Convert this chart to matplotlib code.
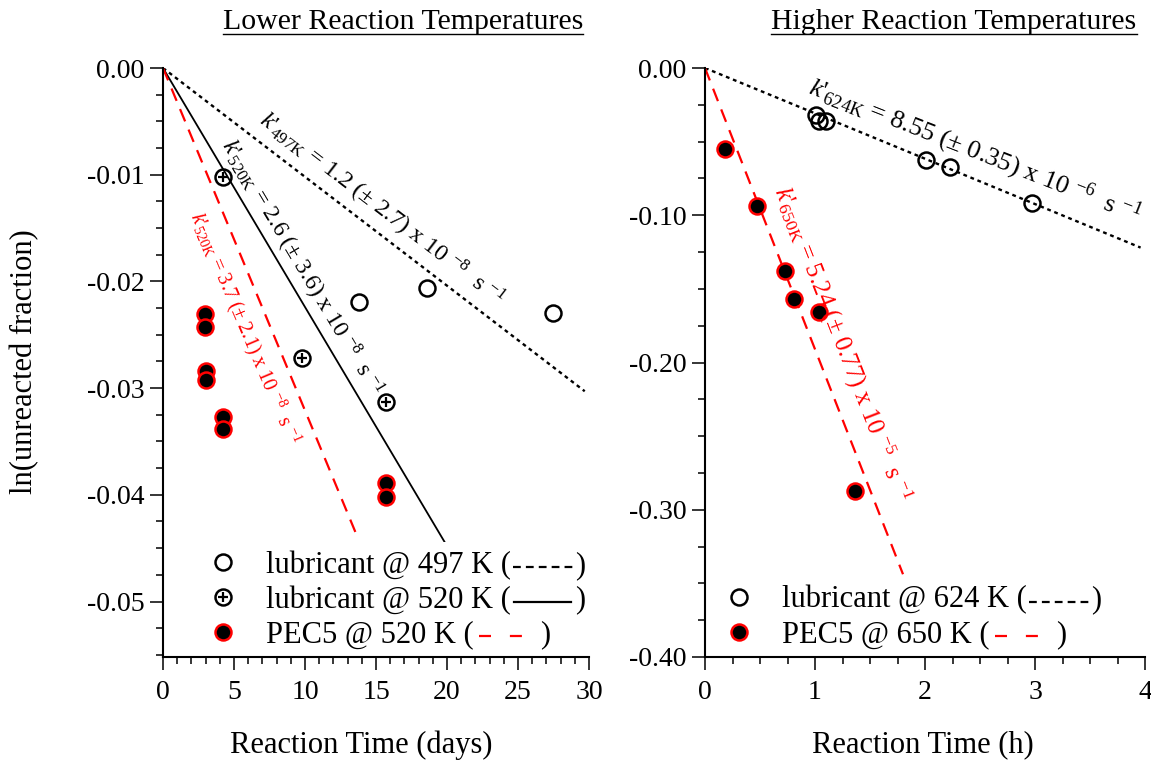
import numpy as np
import matplotlib
matplotlib.use("Agg")
import matplotlib.pyplot as plt
from matplotlib.lines import Line2D

plt.rcParams['font.family'] = ['Liberation Serif', 'DejaVu Serif']
plt.rcParams['mathtext.fontset'] = 'custom'
plt.rcParams['mathtext.rm'] = 'Liberation Serif'
plt.rcParams['mathtext.it'] = 'Liberation Serif:italic'
plt.rcParams['axes.unicode_minus'] = False

# -------------------------------------------------------------------
# Data: lower temperatures (days)
# -------------------------------------------------------------------
t_lub497 = [13.8, 18.6, 27.5]
y_lub497 = [-0.0219, -0.0206, -0.0230]

t_lub520 = [4.25, 9.8, 15.7]
y_lub520 = [-0.0102, -0.0272, -0.0313]

t_pec520 = [2.95, 2.95, 3.0, 3.0, 4.2, 4.25, 15.7, 15.7]
y_pec520 = [-0.0231, -0.0243, -0.0284, -0.0292, -0.0327, -0.0338, -0.0389, -0.0402]

# fitted slopes (per day) and how far each fit line runs
slope_lub497, xend_lub497 = -0.00102, 29.7
slope_lub520, xend_lub520 = -0.00224, 26.0
slope_pec520, xend_pec520 = -0.00321, 13.6

# -------------------------------------------------------------------
# Data: higher temperatures (hours)
# -------------------------------------------------------------------
t_lub624 = [1.01, 1.04, 1.10, 2.01, 2.23, 2.97]
y_lub624 = [-0.032, -0.036, -0.036, -0.0625, -0.067, -0.092]

t_pec650 = [0.18, 0.475, 0.73, 0.81, 1.04, 1.36]
y_pec650 = [-0.055, -0.094, -0.138, -0.157, -0.166, -0.287]

slope_lub624, xend_lub624 = -0.0308, 3.96
slope_pec650, xend_pec650 = -0.191, 1.80

W, H = 1151, 761
fig = plt.figure(figsize=(W / 100, H / 100), dpi=100)

ax1 = fig.add_axes([163 / W, 1 - 657 / H, 426 / W, 589 / H])
ax2 = fig.add_axes([705 / W, 1 - 657 / H, 440 / W, 589 / H])

DOT = (0, (1.6, 1.6))
DASH = (0, (6, 4))
open_kw = dict(ls='none', marker='o', ms=11.5, mfc='none', mec='black', mew=1.8)
red_kw = dict(ls='none', marker='o', ms=11.5, mfc='black', mec='red', mew=1.8)
plus_kw = dict(ls='none', marker='+', ms=7, mec='black', mew=1.6)


def fit_line(ax, slope, xend, **kw):
    x = np.array([0.0, xend])
    ax.plot(x, slope * x, **kw)


def k_label(sub, val, err, exp):
    # k' written as in the original: italic k, plain apostrophe, then subscript
    return (r"$\mathit{k}$'$_{\mathrm{" + sub + r"}}$ = " + val + " (± " + err
            + r") x 10 $^{\mathrm{" + exp + r"}}$  s $^{\mathrm{-1}}$")


# ---------------- left panel ----------------
fit_line(ax1, slope_lub497, xend_lub497, color='black', lw=1.7, ls=DOT)
fit_line(ax1, slope_lub520, xend_lub520, color='black', lw=1.3)
fit_line(ax1, slope_pec520, xend_pec520, color='red', lw=1.6, ls=DASH)

h1, = ax1.plot(t_lub497, y_lub497, **open_kw)
h2a, = ax1.plot(t_lub520, y_lub520, **open_kw)
h2b, = ax1.plot(t_lub520, y_lub520, **plus_kw)
h3, = ax1.plot(t_pec520, y_pec520, **red_kw)

ax1.set_xlim(0, 30)
ax1.set_ylim(-0.0552, 0)
ax1.set_xticks(np.arange(0, 31, 5))
ax1.set_xticks(np.arange(0, 31, 1), minor=True)
ax1.set_yticks([0, -0.01, -0.02, -0.03, -0.04, -0.05])
ax1.set_yticks(np.arange(0, -0.0551, -0.0025), minor=True)
ax1.set_yticklabels(['0.00', '-0.01', '-0.02', '-0.03', '-0.04', '-0.05'])

ax1.text(6.69, -0.0052, k_label('497K', '1.2', '2.7', '-8'),
         rotation=-37.5, rotation_mode='anchor', ha='left', va='baseline',
         fontsize=17.5, color='black')
ax1.text(4.01, -0.0072, k_label('520K', '2.6', '3.6', '-8'),
         rotation=-59.2, rotation_mode='anchor', ha='left', va='baseline',
         fontsize=17, color='black')
ax1.text(1.94, -0.0138, k_label('520K', '3.7', '2.1', '-8'),
         rotation=-67, rotation_mode='anchor', ha='left', va='baseline',
         fontsize=14.5, color='red')

leg1 = ax1.legend([h1, (h2a, h2b), h3],
                  ['lubricant @ 497 K (', 'lubricant @ 520 K (', 'PEC5 @ 520 K ('],
                  loc='upper left', bbox_to_anchor=(0.048, 0.222),
                  fontsize=22, handlelength=1.0, handletextpad=0.9,
                  labelspacing=0.18, borderpad=0.3, frameon=True,
                  framealpha=1, facecolor='white', edgecolor='none', fancybox=False)
leg1.set_zorder(2.3)

# ---------------- right panel ----------------
fit_line(ax2, slope_lub624, xend_lub624, color='black', lw=1.7, ls=DOT)
fit_line(ax2, slope_pec650, xend_pec650, color='red', lw=1.6, ls=DASH)

g1, = ax2.plot(t_lub624, y_lub624, **open_kw)
g2, = ax2.plot(t_pec650, y_pec650, **red_kw)

ax2.set_xlim(0, 4)
ax2.set_ylim(-0.40, 0)
ax2.set_xticks(np.arange(0, 5, 1))
ax2.set_xticks(np.arange(0, 4.01, 0.25), minor=True)
ax2.set_yticks([0, -0.1, -0.2, -0.3, -0.4])
ax2.set_yticks(np.arange(0, -0.401, -0.025), minor=True)
ax2.set_yticklabels(['0.00', '-0.10', '-0.20', '-0.30', '-0.40'])

ax2.text(0.931, -0.0167, k_label('624K', '8.55', '0.35', '-6'),
         rotation=-21.5, rotation_mode='anchor', ha='left', va='baseline',
         fontsize=19, color='black')
ax2.text(0.627, -0.083, k_label('650K', '5.24', '0.77', '-5'),
         rotation=-68.7, rotation_mode='anchor', ha='left', va='baseline',
         fontsize=18, color='red')

leg2 = ax2.legend([g1, g2], ['lubricant @ 624 K (', 'PEC5 @ 650 K ('],
                  loc='upper left', bbox_to_anchor=(-0.012, 0.163),
                  fontsize=22, handlelength=1.0, handletextpad=0.9,
                  labelspacing=0.18, borderpad=0.3, frameon=True,
                  framealpha=1, facecolor='white', edgecolor='none', fancybox=False)
leg2.set_zorder(2.3)

for ax in (ax1, ax2):
    ax.spines['top'].set_visible(False)
    ax.spines['right'].set_visible(False)
    for s in ('left', 'bottom'):
        ax.spines[s].set_linewidth(1.5)
    ax.tick_params(which='major', direction='out', length=9.5, width=1.1,
                   labelsize=20, pad=4)
    ax.tick_params(which='minor', direction='out', length=5, width=1.1)
    ax.tick_params(axis='x', which='major', pad=7)

fig.text(25 / W, 1 - 362 / H, 'ln(unreacted fraction)', rotation=90,
         ha='center', va='center', fontsize=22)
fig.text(361 / W, 1 - 745 / H, 'Reaction Time (days)', ha='center', va='center', fontsize=22)
fig.text(923 / W, 1 - 745 / H, 'Reaction Time (h)', ha='center', va='center', fontsize=22)

t_low = fig.text(403 / W, 1 - 22 / H, 'Lower Reaction Temperatures',
                 ha='center', va='center', fontsize=21.5)
t_high = fig.text(954 / W, 1 - 22 / H, 'Higher Reaction Temperatures',
                  ha='center', va='center', fontsize=21.5)

# legend line samples and closing brackets, plus the title underlines
fig.canvas.draw()
r = fig.canvas.get_renderer()
inv = fig.transFigure.inverted()


def fig_line(x0, x1, y, **kw):
    (a, b), (c, d) = inv.transform([(x0, y), (x1, y)])
    fig.add_artist(Line2D([a, c], [b, d], zorder=10, **kw))


def fig_txt(x, y, s, **kw):
    a, b = inv.transform((x, y))
    fig.text(a, b, s, zorder=10, **kw)


dot_s = dict(color='black', lw=1.6, ls=(0, (3.5, 2.3)))
solid_s = dict(color='black', lw=1.6, ls='-')
dash_s = dict(color='red', lw=1.6, ls=(0, (5.4, 8.5)))
samples = [
    (leg1.get_texts()[0], dot_s, 2, 62, 64),
    (leg1.get_texts()[1], solid_s, 3, 60, 64),
    (leg1.get_texts()[2], dash_s, 5, 55, 66),
    (leg2.get_texts()[0], dot_s, 2, 62, 64),
    (leg2.get_texts()[1], dash_s, 5, 55, 66),
]
for txt, kw, a, b, c in samples:
    bb = txt.get_window_extent(r)
    ym = bb.y0 + 0.45 * bb.height
    fig_line(bb.x1 + a, bb.x1 + b, ym, **kw)
    fig_txt(bb.x1 + c, bb.y0 + bb.height / 2, ')', ha='left', va='center',
            fontsize=22)

for t in (t_low, t_high):
    bb = t.get_window_extent(r)
    fig_line(bb.x0, bb.x1, bb.y0 + 1, color='black', lw=1.0)

fig.savefig('out.png', dpi=100)
